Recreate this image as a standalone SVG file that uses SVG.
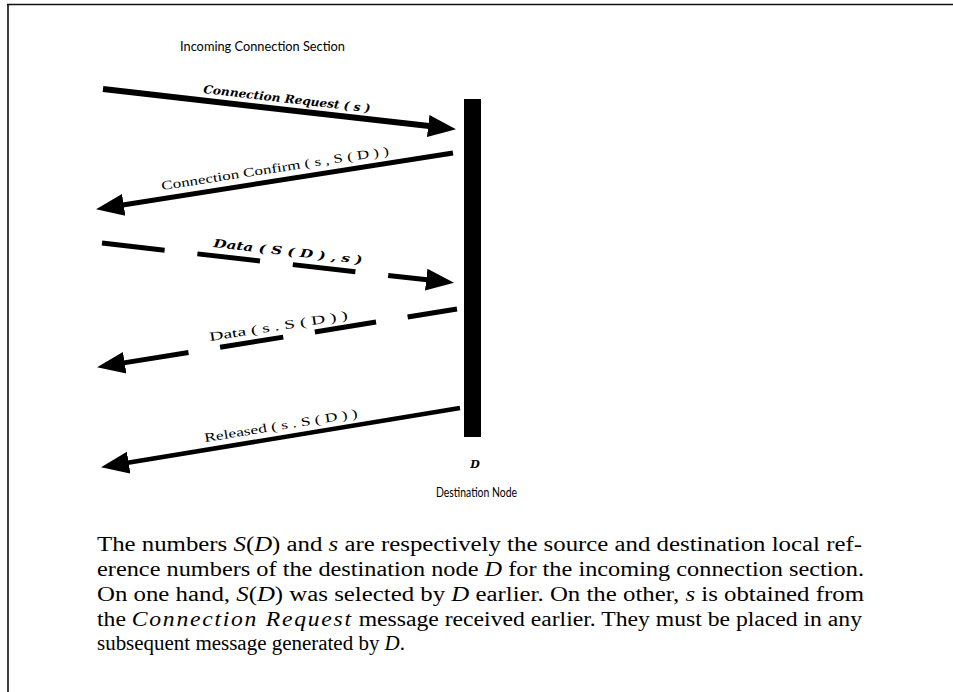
<svg xmlns="http://www.w3.org/2000/svg" width="953" height="692" viewBox="0 0 953 692">
  <style>
    .frame { stroke: #111; stroke-width: 1.6; fill: none; }
    .msg { stroke: #000; fill: none; stroke-linecap: butt; }
    .lbl { font-family: "Liberation Serif", "DejaVu Serif", serif; font-size: 12.5px; fill: #000; }
    .lbl-b { font-family: "DejaVu Serif", "Liberation Serif", serif; font-size: 11.5px; font-weight: bold; font-style: italic; fill: #000; }
    .sans { font-family: "Lato", "Liberation Sans", sans-serif; font-size: 13px; fill: #000; }
    .body { font-family: "Liberation Serif", "DejaVu Serif", serif; font-size: 20.5px; fill: #000; }
    .it { font-style: italic; }
  </style>
  <defs>
    <marker id="head" markerUnits="userSpaceOnUse" markerWidth="30" markerHeight="24" refX="1" refY="11" orient="auto" viewBox="0 0 30 22">
      <path d="M0,0 L28,11 L0,22 z" fill="#000"/>
    </marker>
  </defs>

  <rect width="953" height="692" fill="#fff"/>

  <!-- page frame: top and left rules -->
  <path class="frame" d="M7,4.5 H953 M8,4 V692"/>

  <text class="sans" x="180" y="51" textLength="165" lengthAdjust="spacingAndGlyphs">Incoming Connection Section</text>

  <!-- destination node D -->
  <g id="node-D">
    <rect x="464" y="99" width="17" height="338" fill="#000"/>
    <text x="475" y="468" text-anchor="middle" font-family="DejaVu Serif, serif" font-size="11" font-weight="bold" font-style="italic">D</text>
    <text class="sans" x="436" y="497" textLength="81" lengthAdjust="spacingAndGlyphs">Destination Node</text>
  </g>

  <!-- message arrows -->
  <g id="connectors">
    <path id="m-request" class="msg" stroke-width="6" marker-end="url(#head)" d="M103,89 L429.2,126.1"/>
    <path id="m-confirm" class="msg" stroke-width="5" marker-end="url(#head)" d="M453,153 L122.7,205"/>
    <path id="m-data-in" class="msg" stroke-width="5" stroke-dasharray="63 33" marker-end="url(#head)" d="M102,243.1 L427.2,279.8"/>
    <path id="m-data-out" class="msg" stroke-width="5" stroke-dasharray="50 32 62 32 64 32 100" marker-end="url(#head)" d="M457,309 L123.7,362.9"/>
    <path id="m-released" class="msg" stroke-width="4.5" marker-end="url(#head)" d="M460,408 L127.7,462.8"/>
  </g>

  <!-- message labels -->
  <g id="labels">
    <text class="lbl-b" transform="translate(203,93) rotate(6.6)" textLength="168" lengthAdjust="spacingAndGlyphs">Connection Request ( s )</text>
    <text class="lbl" transform="translate(162,190) rotate(-8.8)" textLength="230" lengthAdjust="spacingAndGlyphs">Connection Confirm ( s , S ( D ) )</text>
    <text class="lbl-b" transform="translate(213,247) rotate(6.5)" textLength="150" lengthAdjust="spacingAndGlyphs">Data ( S ( D ) , s )</text>
    <text class="lbl" transform="translate(210,341) rotate(-9)" textLength="140" lengthAdjust="spacingAndGlyphs">Data ( s . S ( D ) )</text>
    <text class="lbl" transform="translate(205,442) rotate(-9.2)" textLength="155" lengthAdjust="spacingAndGlyphs">Released ( s . S ( D ) )</text>
  </g>

  <!-- caption -->
  <g id="caption">
    <text class="body" x="97" y="551" textLength="765" lengthAdjust="spacingAndGlyphs">The numbers <tspan class="it">S</tspan>(<tspan class="it">D</tspan>) and <tspan class="it">s</tspan> are respectively the source and destination local ref-</text>
    <text class="body" x="97" y="576" textLength="767" lengthAdjust="spacingAndGlyphs">erence numbers of the destination node <tspan class="it">D</tspan> for the incoming connection section.</text>
    <text class="body" x="97" y="601" textLength="767" lengthAdjust="spacingAndGlyphs">On one hand, <tspan class="it">S</tspan>(<tspan class="it">D</tspan>) was selected by <tspan class="it">D</tspan> earlier. On the other, <tspan class="it">s</tspan> is obtained from</text>
    <text class="body" x="97" y="626" textLength="765" lengthAdjust="spacingAndGlyphs">the <tspan class="it" letter-spacing="1.5">Connection Request</tspan> message received earlier. They must be placed in any</text>
    <text class="body" x="97" y="650" textLength="308" lengthAdjust="spacingAndGlyphs">subsequent message generated by <tspan class="it">D</tspan>.</text>
  </g>
</svg>
